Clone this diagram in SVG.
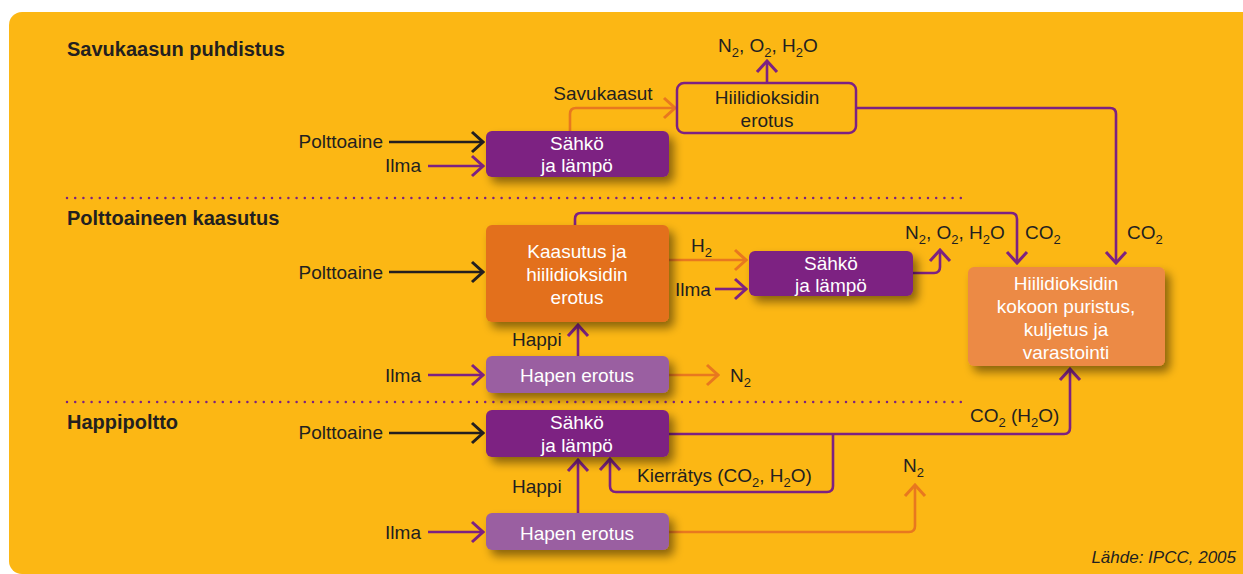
<svg xmlns="http://www.w3.org/2000/svg" width="1243" height="574" viewBox="0 0 1243 574">
<style>
text{font-family:"Liberation Sans",Arial,sans-serif;font-size:19px;fill:#231F20}
.t{font-weight:bold;font-size:20px}
.w{fill:#fff}
.m{text-anchor:middle}
.e{text-anchor:end}
.s{font-size:13px}
.src{font-style:italic;font-size:17px;text-anchor:end}
.c path{fill:none;stroke-width:2.6;stroke-linejoin:round}
.k{stroke:#231F20;marker-end:url(#ak)}
.p{stroke:#7D2182;marker-end:url(#ap)}
.o{stroke:#E8781F;marker-end:url(#ao)}
.box{filter:url(#sh)}
</style>
<defs>
<filter id="sh" x="-20%" y="-30%" width="150%" height="180%"><feDropShadow dx="5" dy="6" stdDeviation="5" flood-color="#000" flood-opacity="0.45"/></filter>
<marker id="ak" markerUnits="userSpaceOnUse" viewBox="-14 -12 16 24" refX="0" refY="0" markerWidth="16" markerHeight="24" orient="auto"><path d="M-11,-10 L0,0 L-11,10" fill="none" stroke="#231F20" stroke-width="3"/></marker>
<marker id="ap" markerUnits="userSpaceOnUse" viewBox="-14 -12 16 24" refX="0" refY="0" markerWidth="16" markerHeight="24" orient="auto"><path d="M-11,-10 L0,0 L-11,10" fill="none" stroke="#7D2182" stroke-width="3"/></marker>
<marker id="ao" markerUnits="userSpaceOnUse" viewBox="-14 -12 16 24" refX="0" refY="0" markerWidth="16" markerHeight="24" orient="auto"><path d="M-11,-10 L0,0 L-11,10" fill="none" stroke="#E8781F" stroke-width="3"/></marker>
</defs>
<rect x="9" y="12" width="1250" height="562" rx="13" fill="#FCB714"/>
<g id="sections">
<text class="t" x="67" y="56">Savukaasun puhdistus</text>
<text class="t" x="67" y="225">Polttoaineen kaasutus</text>
<text class="t" x="67" y="429">Happipoltto</text>
<line x1="67" y1="198" x2="968" y2="198" stroke="#7D2182" stroke-width="2.5" stroke-linecap="round" stroke-dasharray="0 8.2"/>
<line x1="67" y1="402" x2="968" y2="402" stroke="#7D2182" stroke-width="2.5" stroke-linecap="round" stroke-dasharray="0 8.2"/>
</g>
<g id="connectors" class="c">
<path class="k" d="M389,142 H483"/>
<path class="p" d="M428,166 H483"/>
<path class="o" d="M570,131 V114 Q570,108 576,108 H675"/>
<path class="p" d="M767,83 V61"/>
<path class="p" d="M856,108 H1110 Q1116,108 1116,114 V263"/>
<path class="k" d="M389,272 H483"/>
<path class="p" d="M575,225 V219 Q575,213 581,213 H1011 Q1017,213 1017,219 V263"/>
<path class="o" d="M669,260 H746"/>
<path class="p" d="M715,289 H746"/>
<path class="p" d="M913,273 H934 Q940,273 940,267 V250"/>
<path class="p" d="M578,356 V325"/>
<path class="p" d="M428,375 H483"/>
<path class="o" d="M669,375 H718"/>
<path class="k" d="M389,433 H483"/>
<path class="p" d="M669,434 H1064 Q1070,434 1070,428 V369"/>
<path class="p" d="M833,434 V486 Q833,492 827,492 H616 Q610,492 610,486 V459"/>
<path class="p" d="M578,513 V460"/>
<path class="p" d="M428,532 H483"/>
<path class="o" d="M669,532 H909 Q915,532 915,526 V485"/>
</g>
<g id="labels">
<text class="e" x="383" y="148">Polttoaine</text>
<text class="e" x="421" y="172">Ilma</text>
<text class="m" x="603" y="100">Savukaasut</text>
<text x="718" y="52">N<tspan class="s" dy="5">2</tspan><tspan dy="-5">, O</tspan><tspan class="s" dy="5">2</tspan><tspan dy="-5">, H</tspan><tspan class="s" dy="5">2</tspan><tspan dy="-5">O</tspan></text>
<text class="e" x="383" y="279">Polttoaine</text>
<text x="691" y="252">H<tspan class="s" dy="5">2</tspan></text>
<text x="675" y="296">Ilma</text>
<text x="905" y="239">N<tspan class="s" dy="5">2</tspan><tspan dy="-5">, O</tspan><tspan class="s" dy="5">2</tspan><tspan dy="-5">, H</tspan><tspan class="s" dy="5">2</tspan><tspan dy="-5">O</tspan></text>
<text x="1025" y="239">CO<tspan class="s" dy="5">2</tspan></text>
<text x="1127" y="239">CO<tspan class="s" dy="5">2</tspan></text>
<text x="512" y="346">Happi</text>
<text class="e" x="421" y="382">Ilma</text>
<text x="730" y="382">N<tspan class="s" dy="5">2</tspan></text>
<text class="e" x="383" y="439">Polttoaine</text>
<text x="970" y="422">CO<tspan class="s" dy="5">2</tspan><tspan dy="-5"> (H</tspan><tspan class="s" dy="5">2</tspan><tspan dy="-5">O)</tspan></text>
<text x="637" y="482">Kierrätys (CO<tspan class="s" dy="5">2</tspan><tspan dy="-5">, H</tspan><tspan class="s" dy="5">2</tspan><tspan dy="-5">O)</tspan></text>
<text x="903" y="472">N<tspan class="s" dy="5">2</tspan></text>
<text x="512" y="493">Happi</text>
<text class="e" x="421" y="539">Ilma</text>
<text class="src" x="1236" y="563">Lähde: IPCC, 2005</text>
</g>
<g id="n1">
<rect class="box" x="486" y="131" width="183" height="46" rx="6" fill="#7D2182"/>
<text class="w m" x="577" y="150">Sähkö</text>
<text class="w m" x="577" y="172">ja lämpö</text>
</g>
<g id="n2">
<rect x="677" y="83" width="179" height="50" rx="7" fill="none" stroke="#7D2182" stroke-width="2.5"/>
<text class="m" x="767" y="104">Hiilidioksidin</text>
<text class="m" x="767" y="127">erotus</text>
</g>
<g id="n3">
<rect class="box" x="486" y="225" width="183" height="97" rx="6" fill="#E3701E"/>
<text class="w m" x="577" y="258">Kaasutus ja</text>
<text class="w m" x="577" y="281">hiilidioksidin</text>
<text class="w m" x="577" y="304">erotus</text>
</g>
<g id="n4">
<rect class="box" x="749" y="251" width="164" height="45" rx="6" fill="#7D2182"/>
<text class="w m" x="831" y="270">Sähkö</text>
<text class="w m" x="831" y="292">ja lämpö</text>
</g>
<g id="n5">
<rect class="box" x="968" y="267" width="197" height="99" rx="6" fill="#EC8A44"/>
<text class="w m" x="1066" y="290">Hiilidioksidin</text>
<text class="w m" x="1066" y="313">kokoon puristus,</text>
<text class="w m" x="1066" y="336">kuljetus ja</text>
<text class="w m" x="1066" y="359">varastointi</text>
</g>
<g id="n6">
<rect class="box" x="486" y="356" width="183" height="37" rx="6" fill="#9A5FA1"/>
<text class="w m" x="577" y="382">Hapen erotus</text>
</g>
<g id="n7">
<rect class="box" x="486" y="410" width="183" height="47" rx="6" fill="#7D2182"/>
<text class="w m" x="577" y="429">Sähkö</text>
<text class="w m" x="577" y="452">ja lämpö</text>
</g>
<g id="n8">
<rect class="box" x="486" y="513" width="183" height="37" rx="6" fill="#9A5FA1"/>
<text class="w m" x="577" y="540">Hapen erotus</text>
</g>
</svg>
